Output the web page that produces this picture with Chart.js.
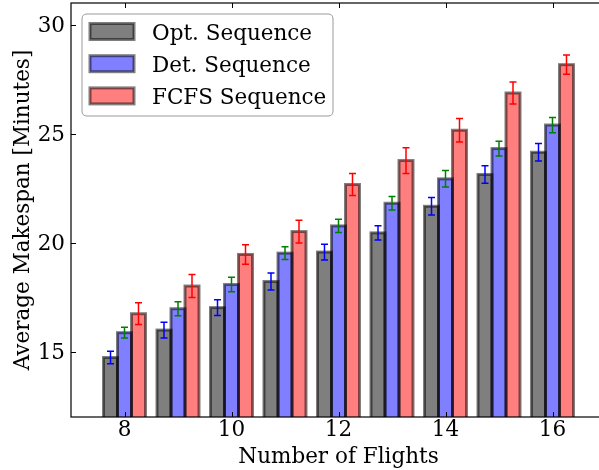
<!DOCTYPE html>
<html><head><meta charset="utf-8">
<script src="https://cdn.jsdelivr.net/npm/chart.js@4"></script>
<style>html,body{margin:0;padding:0;background:#fff;overflow:hidden;width:599px;height:470px}
#wrap{width:607px;height:470px}</style></head>
<body><div id="wrap"><canvas id="c" width="607" height="470"></canvas></div>
<script>
const flights=[8,9,10,11,12,13,14,15,16];
const optMean=[14.73,15.99,17.02,18.22,19.57,20.45,21.67,23.13,24.15];
const optErr=[0.29,0.36,0.36,0.39,0.36,0.33,0.40,0.40,0.40];
const detMean=[15.87,16.97,18.08,19.52,20.77,21.81,22.93,24.32,25.40];
const detErr=[0.25,0.32,0.33,0.29,0.30,0.31,0.38,0.34,0.35];
const fcfsMean=[16.74,18.01,19.46,20.51,22.67,23.77,25.16,26.87,28.17];
const fcfsErr=[0.50,0.53,0.45,0.52,0.51,0.59,0.54,0.50,0.44];
const xTicks=[8,10,12,14,16];
const yTicks=[15,20,25,30];
const seriesNames=['Opt. Sequence','Det. Sequence','FCFS Sequence'];
const xLabel='Number of Flights';
const yLabel='Average Makespan [Minutes]';

const FONT='DejaVu Serif';
const FS=21.5;
const fills=['rgba(0,0,0,0.5)','rgba(0,0,255,0.5)','rgba(255,0,0,0.5)'];
const errColors=['#0000ff','#008000','#ff0000'];
const edge='rgba(0,0,0,0.5)';

function mk(i,means,errs){
  return {label:seriesNames[i],data:flights.map((f,k)=>({x:f,y:means[k]})),errors:errs,
    backgroundColor:fills[i],borderWidth:0,barThickness:14};
}

const barDecor={id:'barDecor',afterDatasetsDraw(chart){
  const ctx=chart.ctx,ca=chart.chartArea,ys=chart.scales.y;
  ctx.save();
  ctx.beginPath();ctx.rect(ca.left,ca.top,ca.right-ca.left,ca.bottom-ca.top);ctx.clip();
  for(let d=0;d<3;d++){
    const meta=chart.getDatasetMeta(d);
    ctx.strokeStyle=edge;ctx.lineWidth=3;
    meta.data.forEach(el=>{
      const p=el.getProps(['x','y','base','width'],true);
      ctx.strokeRect(p.x-p.width/2,p.y,p.width,p.base-p.y+5);
    });
  }
  for(let d=0;d<3;d++){
    const meta=chart.getDatasetMeta(d);const ds=chart.data.datasets[d];
    ctx.strokeStyle=errColors[d];ctx.lineWidth=1.5;
    meta.data.forEach((el,k)=>{
      const v=ds.data[k].y,e=ds.errors[k];
      const x=el.getProps(['x'],true).x;
      const y1=ys.getPixelForValue(v-e),y2=ys.getPixelForValue(v+e);
      ctx.beginPath();
      ctx.moveTo(x,y1);ctx.lineTo(x,y2);
      ctx.moveTo(x-3.5,y1);ctx.lineTo(x+3.5,y1);
      ctx.moveTo(x-3.5,y2);ctx.lineTo(x+3.5,y2);
      ctx.stroke();
    });
  }
  ctx.restore();
}};

const frame={id:'frame',afterDraw(chart){
  const ctx=chart.ctx,ca=chart.chartArea,xs=chart.scales.x,ys=chart.scales.y;
  ctx.save();
  ctx.strokeStyle='#000';ctx.lineWidth=1.2;
  ctx.strokeRect(ca.left,ca.top,ca.right-ca.left,ca.bottom-ca.top);
  ctx.lineWidth=1;
  ctx.beginPath();
  xTicks.forEach(v=>{const x=Math.round(xs.getPixelForValue(v))+0.5;
    ctx.moveTo(x,ca.bottom);ctx.lineTo(x,ca.bottom-5);
    ctx.moveTo(x,ca.top);ctx.lineTo(x,ca.top+5);});
  yTicks.forEach(v=>{const y=Math.round(ys.getPixelForValue(v))+0.5;
    ctx.moveTo(ca.left,y);ctx.lineTo(ca.left+5,y);
    ctx.moveTo(ca.right,y);ctx.lineTo(ca.right-5,y);});
  ctx.stroke();
  // legend
  const bx=82,by=14,bw=251,bh=102,r=5;
  ctx.beginPath();
  ctx.moveTo(bx+r,by);ctx.lineTo(bx+bw-r,by);ctx.quadraticCurveTo(bx+bw,by,bx+bw,by+r);
  ctx.lineTo(bx+bw,by+bh-r);ctx.quadraticCurveTo(bx+bw,by+bh,bx+bw-r,by+bh);
  ctx.lineTo(bx+r,by+bh);ctx.quadraticCurveTo(bx,by+bh,bx,by+bh-r);
  ctx.lineTo(bx,by+r);ctx.quadraticCurveTo(bx,by,bx+r,by);ctx.closePath();
  ctx.fillStyle='#fff';ctx.fill();
  ctx.strokeStyle='#9a9a9a';ctx.lineWidth=1;ctx.stroke();
  ctx.font=FS+'px "'+FONT+'"';ctx.textBaseline='alphabetic';ctx.textAlign='left';
  for(let i=0;i<3;i++){
    const cy=31.5+i*32.2;
    ctx.fillStyle=fills[i];ctx.fillRect(90,cy-8,44,16);
    ctx.strokeStyle=edge;ctx.lineWidth=3;ctx.strokeRect(90,cy-8,44,16);
    ctx.fillStyle='#000';ctx.fillText(seriesNames[i],152,cy+8.5);
  }
  ctx.restore();
}};

new Chart(document.getElementById('c'),{
  type:'bar',
  data:{datasets:[mk(0,optMean,optErr),mk(1,detMean,detErr),mk(2,fcfsMean,fcfsErr)]},
  options:{
    responsive:false,animation:false,
    layout:{padding:{top:3,right:1,left:0,bottom:0}},
    plugins:{legend:{display:false},tooltip:{enabled:false}},
    scales:{
      x:{type:'linear',min:7,max:17,offset:false,
        grid:{display:false,offset:false,drawTicks:false},border:{display:false},
        afterBuildTicks:s=>{s.ticks=xTicks.map(v=>({value:v}));},
        afterFit:s=>{s.height=53;s.paddingLeft=0;s.paddingRight=0;},
        ticks:{color:'#000',font:{family:FONT,size:FS},padding:1,maxRotation:0},
        title:{display:true,text:xLabel,color:'#000',font:{family:FONT,size:FS},padding:{top:0,bottom:0}}},
      y:{type:'linear',min:12,max:31,
        grid:{display:false,drawTicks:false},border:{display:false},
        afterBuildTicks:s=>{s.ticks=yTicks.map(v=>({value:v}));},
        afterFit:s=>{s.width=71;s.paddingTop=0;s.paddingBottom=0;},
        ticks:{color:'#000',font:{family:FONT,size:FS},padding:6,labelOffset:2},
        title:{display:true,text:yLabel,color:'#000',font:{family:FONT,size:FS},padding:{top:11,bottom:0}}}
    }
  },
  plugins:[barDecor,frame]
});
</script></body></html>
